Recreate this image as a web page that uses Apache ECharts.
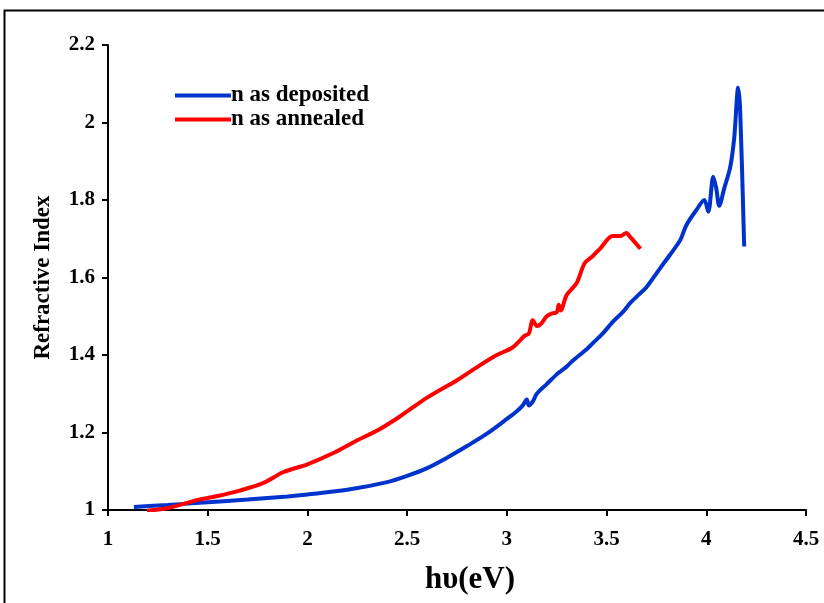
<!DOCTYPE html>
<html><head><meta charset="utf-8">
<script src="https://cdn.jsdelivr.net/npm/echarts@6/dist/echarts.min.js"></script>
<style>html,body{margin:0;padding:0;background:#fff}#c{width:824px;height:603px}</style>
</head><body><div id="c"></div>
<script>
const seriesNames = ['n as deposited', 'n as annealed'];
const depositedX = [1.13,1.3,1.5,1.7,1.9,2.0,2.2,2.4,2.5,2.6,2.7,2.8,2.9,3.0,3.05,3.08,3.10,3.11,3.13,3.15,3.2,3.25,3.27,3.30,3.33,3.40,3.43,3.48,3.53,3.58,3.62,3.66,3.70,3.77,3.82,3.87,3.90,3.95,3.99,4.01,4.035,4.05,4.065,4.09,4.12,4.14,4.16,4.17,4.19];
const depositedY = [1.008,1.013,1.02,1.027,1.035,1.04,1.052,1.072,1.088,1.108,1.135,1.165,1.197,1.235,1.255,1.27,1.285,1.27,1.28,1.30,1.325,1.35,1.358,1.37,1.385,1.415,1.43,1.455,1.485,1.51,1.535,1.555,1.575,1.625,1.66,1.697,1.735,1.774,1.80,1.77,1.86,1.83,1.785,1.83,1.885,1.96,2.09,2.03,1.68];
const annealedX = [1.195,1.3,1.45,1.55,1.66,1.78,1.88,2.0,2.13,2.25,2.35,2.46,2.6,2.75,2.866,2.95,3.03,3.09,3.11,3.13,3.15,3.17,3.20,3.23,3.25,3.26,3.27,3.30,3.35,3.39,3.43,3.47,3.53,3.57,3.60,3.61,3.67];
const annealedY = [0.998,1.005,1.026,1.036,1.05,1.07,1.098,1.118,1.147,1.18,1.205,1.24,1.29,1.335,1.374,1.40,1.42,1.45,1.455,1.49,1.475,1.48,1.50,1.508,1.51,1.53,1.515,1.555,1.586,1.637,1.655,1.676,1.707,1.707,1.715,1.71,1.674];
const xTicks = [1,1.5,2,2.5,3,3.5,4,4.5];
const yTicks = [1,1.2,1.4,1.6,1.8,2,2.2];

const font = 'Liberation Serif';
const chart = echarts.init(document.getElementById('c'));
const pair = (xs, ys) => xs.map((x, i) => [x, ys[i]]);
chart.setOption({
  animation: false,
  backgroundColor: '#fff',
  grid: {left: 108, top: 45, right: 18, bottom: 93, containLabel: false, outerBoundsMode: 'none'},
  graphic: [{type: 'rect', shape: {x: 4.5, y: 10.5, width: 830, height: 600}, style: {fill: 'none', stroke: '#000', lineWidth: 2}, z: 100}],
  legend: {
    orient: 'vertical', left: 170, top: 79, itemGap: 1, itemWidth: 56, itemHeight: 4,
    icon: 'rect',
    textStyle: {fontFamily: font, fontWeight: 'bold', fontSize: 23, color: '#000', padding: [0,0,0,-5]},
    data: seriesNames
  },
  xAxis: {
    type: 'value', min: 1, max: 4.5, interval: 0.5,
    axisLine: {lineStyle: {color: '#000', width: 2}},
    axisTick: {length: 6, lineStyle: {color: '#000', width: 2}},
    splitLine: {show: false},
    axisLabel: {fontFamily: font, fontWeight: 'bold', fontSize: 21, color: '#000', margin: 19,
      formatter: v => xTicks.includes(+v.toFixed(1)) ? String(+v.toFixed(1)) : ''},
    name: 'hυ(eV)', nameLocation: 'middle', nameGap: 54,
    nameTextStyle: {fontFamily: font, fontWeight: 'bold', fontSize: 31, color: '#000', padding: [0,0,0,26]}
  },
  yAxis: {
    type: 'value', min: 1, max: 2.2, interval: 0.2,
    axisLine: {show: true, lineStyle: {color: '#000', width: 2}},
    axisTick: {show: true, length: 6, lineStyle: {color: '#000', width: 2}},
    splitLine: {show: false},
    axisLabel: {fontFamily: font, fontWeight: 'bold', fontSize: 21, color: '#000', margin: 13,
      formatter: v => { const r = +v.toFixed(1); return yTicks.includes(r) ? String(r) : ''; }},
    name: 'Refractive Index', nameLocation: 'middle', nameGap: 53,
    nameTextStyle: {fontFamily: font, fontWeight: 'bold', fontSize: 23, color: '#000'}
  },
  series: [
    {name: seriesNames[0], type: 'line', data: pair(depositedX, depositedY), showSymbol: false, smooth: 0.3,
     lineStyle: {color: '#0033CC', width: 4}, itemStyle: {color: '#0033CC'}},
    {name: seriesNames[1], type: 'line', data: pair(annealedX, annealedY), showSymbol: false, smooth: 0.3,
     lineStyle: {color: '#FF0000', width: 4}, itemStyle: {color: '#FF0000'}}
  ]
});
</script></body></html>
